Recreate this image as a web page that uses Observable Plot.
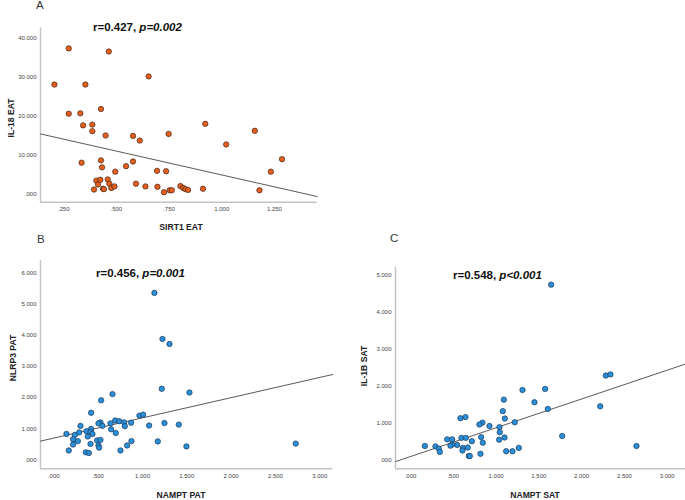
<!DOCTYPE html>
<html>
<head>
<meta charset="utf-8">
<script src="https://cdn.jsdelivr.net/npm/d3@7"></script>
<script src="https://cdn.jsdelivr.net/npm/@observablehq/plot@0.6"></script>
<style>
  html, body { margin: 0; padding: 0; background: #fff; }
  #root { position: relative; width: 685px; height: 500px; overflow: hidden; font-family: "Liberation Sans", Arial, sans-serif; }
  .panel { position: absolute; }
  .lbl { position: absolute; white-space: nowrap; color: #222; }
  .letter { font-size: 11.5px; color: #333; }
  .ann { font-size: 11.5px; font-weight: bold; color: #111; }
  .axt { font-size: 8.6px; font-weight: bold; color: #222; transform: translate(-50%, -50%); }
  .axy { font-size: 8.6px; font-weight: bold; color: #222; transform: translate(-50%, -50%) rotate(-90deg); }
</style>
</head>
<body>
<div id="root"></div>
<script>
// ---------- Panel A: SIRT1 EAT vs IL-18 EAT ----------
const sirt1EAT = [0.206,0.274,0.464,0.653,0.353,0.274,0.329,0.427,0.342,0.386,0.386,0.449,0.579,0.611,0.748,0.922,1.157,1.021,1.286,1.233,1.179,0.335,0.427,0.432,0.495,0.546,0.579,0.693,0.736,0.405,0.424,0.459,0.413,0.467,0.394,0.437,0.441,0.476,0.491,0.593,0.638,0.695,0.726,0.753,0.763,0.804,0.817,0.828,0.840,0.911];
const il18EAT  = [28.1,37.4,36.6,30.2,28.1,20.6,20.7,21.8,17.6,17.8,16.1,15.0,14.9,13.7,15.4,18.0,16.2,12.7,8.9,5.7,0.9,8.0,8.6,6.8,5.7,7.1,8.3,5.9,5.8,3.4,3.6,3.7,2.4,2.6,1.1,1.3,1.2,1.5,1.9,2.6,1.9,1.8,0.4,0.9,0.9,2.0,1.5,1.2,1.0,1.3];
const fitA_x = [0.14, 1.453];
const fitA_y = [15.4, -0.7];
const xTicksA = [0.25, 0.5, 0.75, 1.0, 1.25];
const yTicksA = [0, 10, 20, 30, 40];

// ---------- Panel B: NAMPT PAT vs NLRP3 PAT ----------
const namptPAT = [1.135,1.226,1.305,1.218,1.530,0.662,0.534,0.421,0.966,1.008,0.692,0.737,0.793,0.872,0.526,0.504,0.639,0.549,0.301,1.075,1.248,1.410,0.801,0.647,0.699,0.421,0.368,0.414,0.436,0.286,0.143,0.237,0.218,0.383,0.271,0.218,0.414,0.489,0.526,0.504,0.511,0.169,0.361,0.395,0.752,0.827,0.876,1.173,1.496,2.729];
const nlrp3PAT = [5.36,3.88,3.72,2.28,2.16,2.11,1.91,1.51,1.42,1.45,1.26,1.24,1.20,1.19,1.20,1.17,1.17,1.09,1.09,1.10,1.18,1.13,1.08,0.98,0.86,0.99,0.92,0.89,0.83,0.88,0.83,0.80,0.66,0.75,0.60,0.49,0.51,0.62,0.64,0.46,0.39,0.30,0.24,0.22,0.30,0.46,0.60,0.59,0.43,0.52];
const fitB_x = [-0.15, 3.147];
const fitB_y = [0.60, 2.74];
const xTicksB = [0, 0.5, 1, 1.5, 2, 2.5, 3];
const yTicksB = [0, 1, 2, 3, 4, 5, 6];

// ---------- Panel C: NAMPT SAT vs IL-1B SAT ----------
const namptSAT = [1.644,2.283,2.337,2.217,1.574,1.309,1.449,1.605,1.091,1.079,1.103,1.219,1.040,1.044,0.923,0.841,0.806,0.584,0.643,0.596,0.647,0.826,0.845,0.717,0.429,0.487,0.545,0.487,0.467,0.168,0.292,0.331,0.343,0.612,0.608,0.670,0.682,0.693,0.818,1.036,1.099,1.118,1.192,1.266,1.773,2.641];
const il1bSAT  = [4.74,2.29,2.32,1.46,1.93,1.90,1.57,1.39,1.64,1.33,1.13,1.03,0.90,0.76,0.93,1.02,0.97,1.14,1.17,0.61,0.61,0.63,0.48,0.52,0.57,0.57,0.42,0.43,0.40,0.39,0.38,0.32,0.23,0.34,0.27,0.35,0.12,0.12,0.18,0.56,0.62,0.25,0.25,0.34,0.66,0.39];
const fitC_x = [-0.175, 3.214];
const fitC_y = [-0.03, 2.60];
const xTicksC = [0, 0.5, 1, 1.5, 2, 2.5, 3];
const yTicksC = [0, 1, 2, 3, 4, 5];

// ---------- texts ----------
const panelLetters = ["A", "B", "C"];
const xTitles = ["SIRT1 EAT", "NAMPT PAT", "NAMPT SAT"];
const yTitles = ["IL-18 EAT", "NLRP3 PAT", "IL-1B SAT"];
const annR = ["r=0.427, ", "r=0.456, ", "r=0.548, "];
const annP = ["p=0.002", "p=0.001", "p<0.001"];

const fmt = v => {
  const s = Math.abs(v) < 1e-9 ? "0.000" : v.toFixed(3);
  return s.startsWith("0.") ? s.slice(1) : s;
};

const root = document.getElementById("root");

function panel(cfg) {
  const pts = cfg.xs.map((x, i) => ({x, y: cfg.ys[i]}));
  const fit = cfg.fx.map((x, i) => ({x, y: cfg.fy[i]}));
  const chart = Plot.plot({
    width: cfg.w, height: cfg.h,
    marginLeft: cfg.ml, marginRight: cfg.mr, marginTop: cfg.mt, marginBottom: cfg.mb,
    style: {fontFamily: '"Liberation Sans", Arial, sans-serif', fontSize: "6px", background: "transparent", overflow: "visible"},
    x: {domain: cfg.xd, nice: false},
    y: {domain: cfg.yd, nice: false},
    marks: [
      Plot.ruleX([cfg.xd[0]], {stroke: "#c4c4c4", strokeWidth: 1.5}),
      Plot.ruleY([cfg.yd[0]], {stroke: "#c4c4c4", strokeWidth: 1.5}),
      Plot.axisX({ticks: cfg.xt, tickSize: 0, tickPadding: 5, tickFormat: fmt, label: null, fill: "#444", fontSize: 6}),
      Plot.axisY({ticks: cfg.yt, tickSize: 0, tickPadding: 4, tickFormat: fmt, label: null, fill: "#444", fontSize: 6}),
      Plot.line(fit, {x: "x", y: "y", stroke: "#5a5a5a", strokeWidth: 1}),
      Plot.dot(pts, {x: "x", y: "y", r: 2.7, fill: cfg.color, stroke: cfg.outline, strokeWidth: 0.7})
    ]
  });
  chart.classList.add("panel");
  chart.style.left = cfg.left + "px";
  chart.style.top = cfg.top + "px";
  root.appendChild(chart);
}

panel({xs: sirt1EAT, ys: il18EAT, fx: fitA_x, fy: fitA_y, xt: xTicksA, yt: yTicksA,
  xd: [0.14, 1.453], yd: [-2.16, 42.7],
  left: 0, top: 0, w: 330, h: 215, ml: 40, mr: 13.3, mt: 27.3, mb: 13.3,
  color: "#e2601f", outline: "#4a2412"});
panel({xs: namptPAT, ys: nlrp3PAT, fx: fitB_x, fy: fitB_y, xt: xTicksB, yt: yTicksB,
  xd: [-0.15, 3.147], yd: [-0.289, 6.40],
  left: 0, top: 230, w: 340, h: 250, ml: 40, mr: 7.7, mt: 30, mb: 11.7,
  color: "#2b8fd8", outline: "#1b3a5a"});
panel({xs: namptSAT, ys: il1bSAT, fx: fitC_x, fy: fitC_y, xt: xTicksC, yt: yTicksC,
  xd: [-0.175, 3.214], yd: [-0.224, 5.21],
  left: 340, top: 230, w: 345, h: 250, ml: 55, mr: 0, mt: 36.7, mb: 11.7,
  color: "#2b8fd8", outline: "#1b3a5a"});

function label(cls, html, x, y) {
  const d = document.createElement("div");
  d.className = "lbl " + cls;
  d.innerHTML = html;
  d.style.left = x + "px";
  d.style.top = y + "px";
  root.appendChild(d);
  return d;
}

const letterPos = [[36, -1], [37, 233], [390, 232]];
const annPos = [[93, 21], [96, 267], [453, 269]];
const xTitlePos = [[181, 227], [181, 495], [535, 495]];
const yTitlePos = [[11, 118], [13, 358], [364, 366]];

panelLetters.forEach((t, i) => label("letter", t, letterPos[i][0], letterPos[i][1]));
annR.forEach((t, i) => label("ann", t + "<i>" + annP[i] + "</i>", annPos[i][0], annPos[i][1]));
xTitles.forEach((t, i) => label("axt", t, xTitlePos[i][0], xTitlePos[i][1]));
yTitles.forEach((t, i) => label("axy", t, yTitlePos[i][0], yTitlePos[i][1]));
</script>
</body>
</html>
